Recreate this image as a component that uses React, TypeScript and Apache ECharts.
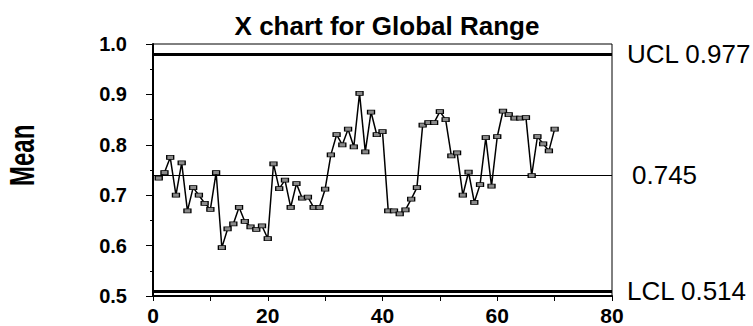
import React, { useEffect, useRef } from "react";
import * as echarts from "echarts";

const titleText = "X chart for Global Range";
const yAxisTitle = "Mean";
const sampleIndex: number[] = Array.from({ length: 70 }, (_, i) => i + 1);
const means: number[] = [
  0.734, 0.745, 0.775, 0.700, 0.764, 0.669, 0.715, 0.700, 0.684, 0.672,
  0.745, 0.596, 0.633, 0.643, 0.676, 0.648, 0.637, 0.632, 0.639, 0.614,
  0.762, 0.713, 0.730, 0.676, 0.723, 0.694, 0.696, 0.676, 0.676, 0.712,
  0.780, 0.820, 0.800, 0.831, 0.796, 0.902, 0.786, 0.865, 0.820, 0.826,
  0.669, 0.669, 0.663, 0.671, 0.692, 0.715, 0.839, 0.844, 0.844, 0.866,
  0.850, 0.778, 0.784, 0.700, 0.746, 0.686, 0.721, 0.814, 0.718, 0.816,
  0.867, 0.860, 0.853, 0.853, 0.854, 0.739, 0.816, 0.802, 0.788, 0.831,
];
const ucl = 0.977;
const center = 0.745;
const lcl = 0.514;

const FONT = "Arial, 'Liberation Sans', sans-serif";

export default function App() {
  const ref = useRef<HTMLDivElement>(null);
  useEffect(() => {
    if (!ref.current) return;
    const chart = echarts.init(ref.current, null, { renderer: "svg" });
    const points = sampleIndex.map((x, i) => [x, means[i]]);
    chart.setOption({
      animation: false,
      title: {
        text: titleText,
        left: 382,
        textAlign: "center",
        top: 8,
        textStyle: { fontFamily: FONT, fontWeight: "bold", fontSize: 26, color: "#000" },
      },
      graphic: [
        {
          type: "text",
          x: 4,
          y: 186,
          rotation: Math.PI / 2,
          scaleY: 1.45,
          style: {
            text: yAxisTitle,
            font: `bold 24px ${FONT}`,
            fill: "#000",
            textAlign: "left",
            textVerticalAlign: "top",
          },
        },
      ],
      grid: {
        left: 153,
        right: 141,
        top: 44,
        bottom: 25.5,
        show: true,
        borderColor: "#000",
        borderWidth: 1,
      },
      xAxis: {
        type: "value",
        min: 0,
        max: 80,
        interval: 20,
        axisLine: { show: true, onZero: false, lineStyle: { color: "#000", width: 2 } },
        axisTick: { show: true, inside: false, length: 5, lineStyle: { color: "#000", width: 1 } },
        minorTick: { show: true, splitNumber: 2, length: 5, lineStyle: { color: "#000", width: 1 } },
        splitLine: { show: false },
        axisLabel: { margin: 9, fontFamily: FONT, fontWeight: "bold", fontSize: 21, color: "#000" },
      },
      yAxis: {
        type: "value",
        min: 0.5,
        max: 1.0,
        interval: 0.1,
        axisLine: { show: true, lineStyle: { color: "#000", width: 2 } },
        axisTick: { show: true, inside: false, length: 7, lineStyle: { color: "#000", width: 1 } },
        minorTick: { show: true, splitNumber: 2, length: 3, lineStyle: { color: "#000", width: 1 } },
        splitLine: { show: false },
        axisLabel: {
          margin: 26,
          fontFamily: FONT,
          fontWeight: "bold",
          fontSize: 20,
          color: "#000",
          formatter: (v: number) => v.toFixed(1),
        },
      },
      series: [
        {
          type: "line",
          data: points,
          symbol: "rect",
          symbolSize: [7, 4],
          showAllSymbol: true,
          lineStyle: { color: "#000", width: 1.5 },
          itemStyle: { color: "#8a8a8a", borderColor: "#000", borderWidth: 1 },
          z: 5,
          markLine: {
            silent: true,
            symbol: "none",
            animation: false,
            data: [
              {
                yAxis: ucl,
                lineStyle: { color: "#000", width: 3, type: "solid" },
                label: { show: true, position: "end", distance: 15, formatter: `UCL ${ucl}` },
              },
              {
                yAxis: center,
                lineStyle: { color: "#000", width: 1, type: "solid" },
                label: { show: true, position: "end", distance: 20, formatter: `${center}` },
              },
              {
                yAxis: lcl,
                lineStyle: { color: "#000", width: 3, type: "solid" },
                label: { show: true, position: "end", distance: 15, formatter: `LCL ${lcl}` },
              },
            ],
            label: { fontFamily: FONT, fontSize: 26, color: "#000" },
          },
        },
      ],
    });
    return () => chart.dispose();
  }, []);
  return <div ref={ref} style={{ width: 753, height: 326, position: "absolute", left: 0, top: 0 }} />;
}
